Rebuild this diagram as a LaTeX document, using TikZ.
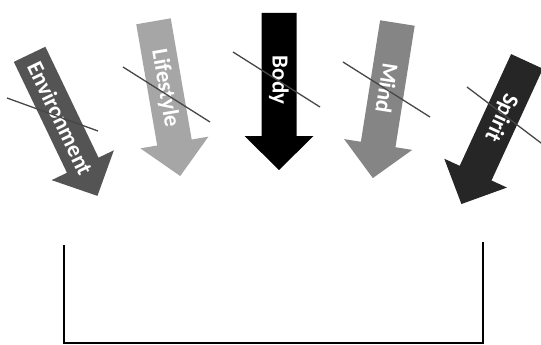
\documentclass[tikz,border=0pt]{standalone}
\usepackage{fontspec}
\setmainfont{Carlito}
\tikzset{
  bigarrow/.pic={
    \path[pic actions] (-17.5,0) -- (17.5,0) -- (17.5,123) -- (34.5,123)
      -- (0,157) -- (-34.5,123) -- (-17.5,123) -- cycle;
  }
}
\begin{document}
\begin{tikzpicture}[x=1pt, y=-1pt,
    arrowtext/.style={text=white, inner sep=0pt, font=\bfseries\fontsize{23}{23}\selectfont},
    strike/.style={draw=black!72, line width=1.3pt},
    bracket/.style={draw=black, line width=2pt}]
  \useasboundingbox (0,0) rectangle (541,345);

  % arrows
  \begin{scope}[shift={(29.6,54.3)}, rotate=25.6]
    \pic[fill=black!67, transform shape] at (0,0) {bigarrow};
    \node[arrowtext, rotate=-64.4] (env) at (0,71) {Environment};
  \end{scope}
  \begin{scope}[shift={(153.5,21.3)}, rotate=9.8]
    \pic[fill=black!35, transform shape] at (0,0) {bigarrow};
    \node[arrowtext, rotate=-80.2] (life) at (0,68) {Lifestyle};
  \end{scope}
  \begin{scope}[shift={(279,13)}]
    \pic[fill=black, transform shape] at (0,0) {bigarrow};
    \node[arrowtext, rotate=-90] (body) at (0,67) {Body};
  \end{scope}
  \begin{scope}[shift={(397.4,23)}, rotate=-9]
    \pic[fill=black!48, transform shape] at (0,0) {bigarrow};
    \node[arrowtext, rotate=-99] (mind) at (0,66) {Mind};
  \end{scope}
  \begin{scope}[shift={(527,61.4)}, rotate=-24.7]
    \pic[fill=black!85, transform shape] at (0,0) {bigarrow};
    \node[arrowtext, rotate=-114.7] (spirit) at (0,62) {Spirit};
  \end{scope}

  % strike lines
  \coordinate (envA) at (7,98);       \coordinate (envB) at (98,131);
  \coordinate (lifeA) at (123,67);    \coordinate (lifeB) at (210,122);
  \coordinate (bodyA) at (233,52);    \coordinate (bodyB) at (320,107);
  \coordinate (mindA) at (343,62);    \coordinate (mindB) at (430,117);
  \coordinate (spiritA) at (467,87);  \coordinate (spiritB) at (545,146);
  \draw[strike] (envA) -- (envB);
  \draw[strike] (lifeA) -- (lifeB);
  \draw[strike] (bodyA) -- (bodyB);
  \draw[strike] (mindA) -- (mindB);
  \draw[strike] (spiritA) -- (spiritB);

  % bracket
  \coordinate (brL) at (64,245);
  \coordinate (brR) at (483,242);
  \draw[bracket] (brL) -- (brL |- 0,343) -- (brR |- 0,343) -- (brR);
\end{tikzpicture}
\end{document}
